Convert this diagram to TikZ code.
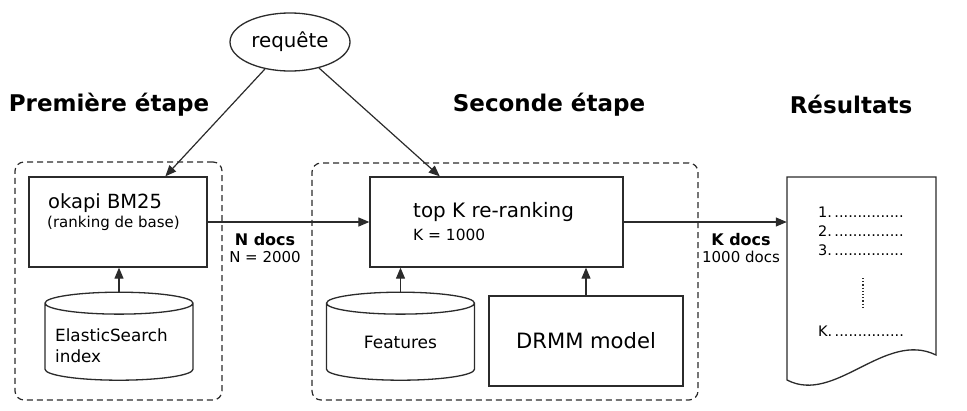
\documentclass[tikz,border=0pt]{standalone}
\usepackage{fontspec}
\setmainfont{DejaVu Sans}
\usepackage{xcolor}
\definecolor{trait}{HTML}{2B2B2B}
\usepackage{tikz}
\usetikzlibrary{positioning,calc,arrows.meta,shapes.geometric}

\begin{document}
\begin{tikzpicture}[x=1pt,y=-1pt,
  boite/.style={draw=trait,line width=1.3pt,fill=white,inner sep=0pt},
  etape/.style={draw=trait,line width=1.2pt,dashed,dash pattern=on 6pt off 4pt,rounded corners=9pt,inner sep=0pt},
  cyl/.style={boite,cylinder,shape border rotate=90,aspect=0.3,minimum width=148pt,minimum height=88pt,font=\fontsize{17}{20}\selectfont},
  titre/.style={font=\fontsize{23}{26}\selectfont\bfseries},
  txt/.style={anchor=base west,inner sep=0pt},
  lbl/.style={font=\fontsize{15}{17.5}\selectfont,align=center,inner sep=0pt},
  fleche/.style={-{Triangle[length=11pt,width=9pt]},trait,line width=1.2pt}]
  \useasboundingbox (0,0) rectangle (967,410);
  % titres
  \node[titre] (t1) at (109,105) {Première étape};
  \node[titre] (t2) at (549,105) {Seconde étape};
  \node[titre] (t3) at (851,104) {Résultats};
  \node[boite,ellipse,minimum width=120pt,minimum height=58pt,font=\fontsize{19.8}{22}\selectfont] (req) at (290,42) {requête};
  % premiere etape
  \node[etape,minimum width=207pt,minimum height=238pt] (e1) at (118.5,281) {};
  \node[boite,minimum width=178pt,minimum height=90pt] (okapi) at (118,222) {};
  \node[txt,font=\fontsize{19.5}{22}\selectfont] (ok1) at (48,208) {okapi BM25};
  \node[txt,font=\fontsize{15}{17}\selectfont] (ok2) at (47,227) {(ranking de base)};
  \node[cyl] (es) at (119,342) {\phantom{Features}};
  \node[txt,font=\fontsize{16.8}{20}\selectfont] (es1) at (55,341) {ElasticSearch};
  \node[txt,font=\fontsize{16.8}{20}\selectfont] (es2) at (55,362) {index};
  % seconde etape
  \node[etape,minimum width=386pt,minimum height=237pt] (e2) at (505,281.5) {};
  \node[boite,minimum width=253pt,minimum height=90pt] (topk) at (496.5,222) {};
  \node[txt,font=\fontsize{19.9}{22}\selectfont] (tk1) at (413,217) {top K re-ranking};
  \node[txt,font=\fontsize{15.4}{17}\selectfont] (tk2) at (413,240) {K = 1000};
  \node[cyl] (feat) at (400.5,342) {Features};
  \node[boite,minimum width=194pt,minimum height=90pt,font=\fontsize{21.1}{24}\selectfont] (drmm) at (586,341) {DRMM model};
  % resultats
  \node[minimum width=149pt,minimum height=203pt,inner sep=0pt] (res) at (861.5,278.5) {};
  \draw[trait,line width=1.3pt,fill=white] (787,177) -- (936,177) -- (936,355)
    .. controls (885,330) and (835,405) .. (787,380) -- cycle;
  \foreach \n/\y in {1/217,2/236,3/255,K/336}
    \node[txt,font=\fontsize{14.5}{16}\selectfont] (r\n) at (818,\y) {\n.\,...............};
  \draw[trait,line width=1.2pt,dotted] (863,278) -- (863,308);
  % fleches
  \draw[fleche] (req) -- ($(okapi.north west)!0.764!(okapi.north east)$);
  \draw[fleche] (req) -- ($(topk.north west)!0.277!(topk.north east)$);
  \draw[fleche] (es) -- (es |- okapi.south);
  \draw[fleche] (feat) -- (feat |- topk.south);
  \draw[fleche] (drmm) -- (drmm |- topk.south);
  \draw[fleche] (okapi.east) -- (topk.west);
  \draw[fleche] (topk.east) -- (topk.east -| res.west);
  \node[lbl] (nd) at (265,248) {{\fontsize{16}{18}\selectfont\bfseries N docs}\\N = 2000};
  \node[lbl] (kd) at (741,248) {{\fontsize{16}{18}\selectfont\bfseries K docs}\\1000 docs};
\end{tikzpicture}
\end{document}
